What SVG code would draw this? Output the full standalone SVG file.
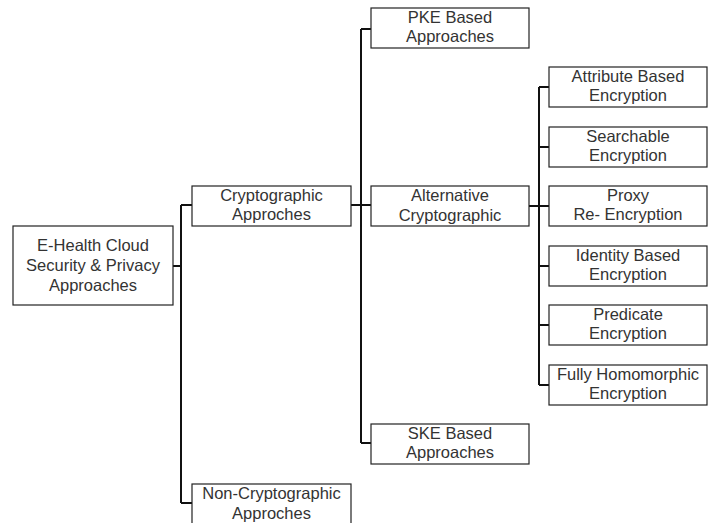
<svg xmlns="http://www.w3.org/2000/svg" width="716" height="523" viewBox="0 0 716 523">
<style>
.n rect{fill:#fff;stroke:#222;stroke-width:1.2}
text{font-family:"Liberation Sans",Arial,sans-serif;font-size:16.5px;fill:#333;text-anchor:middle}
.c{fill:none;stroke:#111;stroke-width:2}
</style>
<rect width="716" height="523" style="fill:#fff;stroke:none"/>
<g id="connectors">
<path class="c" d="M173 266H181M181 205V503M181 205H192M181 503H192"/>
<path class="c" d="M351 205H371M361 29V443M361 29H371M361 443H371"/>
<path class="c" d="M529 206H549M539 87V385M539 87H549M539 147H549M539 266H549M539 325H549M539 385H549"/>
</g>
<g id="root" class="n"><rect x="13" y="226" width="160" height="79"/><text x="93" y="251">E-Health Cloud</text><text x="93" y="271">Security &amp; Privacy</text><text x="93" y="291">Approaches</text></g>
<g id="crypto" class="n"><rect x="192" y="186" width="159" height="40"/><text x="271.5" y="201">Cryptographic</text><text x="271.5" y="220">Approches</text></g>
<g id="noncrypto" class="n"><rect x="192" y="484" width="159" height="42"/><text x="271.5" y="499">Non-Cryptographic</text><text x="271.5" y="519">Approches</text></g>
<g id="pke" class="n"><rect x="371" y="8" width="158" height="40"/><text x="450" y="23">PKE Based</text><text x="450" y="42">Approaches</text></g>
<g id="alt" class="n"><rect x="371" y="186" width="158" height="40"/><text x="450" y="201">Alternative</text><text x="450" y="220.5">Cryptographic</text></g>
<g id="ske" class="n"><rect x="371" y="424" width="158" height="40"/><text x="450" y="439">SKE Based</text><text x="450" y="458">Approaches</text></g>
<g id="abe" class="n"><rect x="549" y="67" width="158" height="40"/><text x="628" y="82">Attribute Based</text><text x="628" y="101">Encryption</text></g>
<g id="se" class="n"><rect x="549" y="127" width="158" height="40"/><text x="628" y="142">Searchable</text><text x="628" y="161">Encryption</text></g>
<g id="pre" class="n"><rect x="549" y="186" width="158" height="40"/><text x="628" y="201">Proxy</text><text x="628" y="220">Re- Encryption</text></g>
<g id="ibe" class="n"><rect x="549" y="246" width="158" height="40"/><text x="628" y="261">Identity Based</text><text x="628" y="280">Encryption</text></g>
<g id="pe" class="n"><rect x="549" y="305" width="158" height="40"/><text x="628" y="320">Predicate</text><text x="628" y="339">Encryption</text></g>
<g id="fhe" class="n"><rect x="549" y="365" width="158" height="40"/><text x="628" y="380">Fully Homomorphic</text><text x="628" y="399">Encryption</text></g>
</svg>
